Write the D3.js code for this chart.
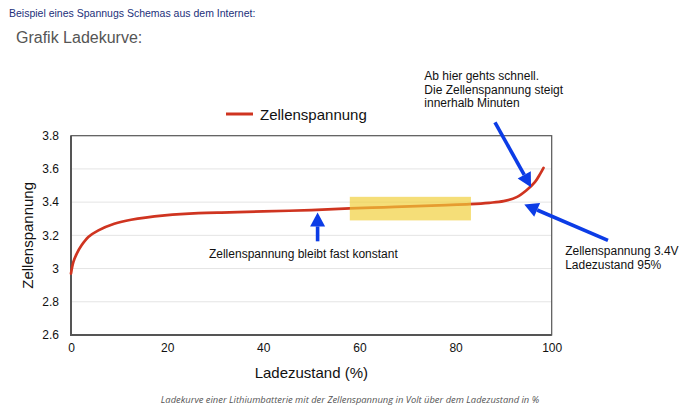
<!DOCTYPE html>
<html>
<head>
<meta charset="utf-8">
<script src="https://cdn.jsdelivr.net/npm/d3@7"></script>
<style>
  body { margin: 0; background: #fff; }
  text { font-family: "Liberation Sans", Arial, Helvetica, sans-serif; fill: #111; }
  .grid line { stroke: #e4e4e4; stroke-width: 1; }
  .tick text { font-size: 12px; fill: #111; }
</style>
</head>
<body>
<div id="chart-container"></div>
<script>
// charge curve: state of charge (%) and cell voltage (V)
const pct  = [0, 0.5, 1.2, 2.2, 3.6, 5.7, 9, 12.5, 19.5, 26.5, 33, 40, 50, 58, 65, 72, 78, 83, 87, 90, 92.7, 94.7, 96.5, 97.6, 98.3];
const volt = [2.97, 3.04, 3.09, 3.14, 3.19, 3.23, 3.27, 3.294, 3.32, 3.334, 3.338, 3.344, 3.352, 3.362, 3.369, 3.376, 3.382, 3.388, 3.396, 3.406, 3.43, 3.47, 3.52, 3.57, 3.606];
const xTicks = [0, 20, 40, 60, 80, 100];
const yTicks = [2.6, 2.8, 3, 3.2, 3.4, 3.6, 3.8];
const seriesName = "Zellenspannung";
// yellow "flat" region
const highlightPct = [58, 83.2];
const highlightVolt = [3.29, 3.432];
// arrows: [fromPct, fromVolt, toPct, toVolt]
const arrows = [
  [51.3, 3.164, 51.3, 3.338],
  [88.2, 3.88, 95.7, 3.49],
  [111.7, 3.17, 94.3, 3.386]
];

const svgWidth = 690, svgHeight = 419;
const svg = d3.select("#chart-container").append("svg")
    .attr("width", svgWidth)
    .attr("height", svgHeight);

const x = d3.scaleLinear().domain([0, 100]).range([71, 551.7]);
const y = d3.scaleLinear().domain([2.6, 3.8]).range([335, 135.7]);

// page texts above the chart
svg.append("text").attr("x", 9).attr("y", 16.5)
    .style("font-size", "10.5px").style("fill", "#22307a")
    .text("Beispiel eines Spannugs Schemas aus dem Internet:");
svg.append("text").attr("x", 16).attr("y", 43)
    .style("font-size", "16px").style("fill", "#555")
    .text("Grafik Ladekurve:");

// grid lines
svg.append("g").attr("class", "grid")
  .selectAll("line")
  .data(yTicks.slice(1, -1))
  .join("line")
    .attr("x1", x(0)).attr("x2", x(100))
    .attr("y1", d => y(d)).attr("y2", d => y(d));

// axes (labels only, frame drawn separately)
const xAxis = svg.append("g").attr("transform", `translate(0,${y(2.6)})`)
    .call(d3.axisBottom(x).tickValues(xTicks).tickSize(0).tickPadding(8.5));
const yAxis = svg.append("g").attr("transform", `translate(${x(0)},0)`)
    .call(d3.axisLeft(y).tickValues(yTicks).tickSize(0).tickPadding(12).tickFormat(d => d));
xAxis.select(".domain").remove();
yAxis.select(".domain").remove();
svg.selectAll(".tick text").attr("font-family", null);

// plot frame
svg.append("rect")
    .attr("x", x(0)).attr("y", y(3.8))
    .attr("width", x(100) - x(0)).attr("height", y(2.6) - y(3.8))
    .attr("fill", "none").attr("stroke", "#555").attr("stroke-width", 1.2);
svg.append("path")
    .attr("d", `M${x(0)},${y(3.8)}V${y(2.6)}H${x(100)}`)
    .attr("fill", "none").attr("stroke", "#555").attr("stroke-width", 2);

// axis titles
svg.append("text")
    .attr("transform", `translate(33,${(y(2.6) + y(3.8)) / 2}) rotate(-90)`)
    .attr("text-anchor", "middle")
    .style("font-size", "15px")
    .text("Zellenspannung");
svg.append("text")
    .attr("x", (x(0) + x(100)) / 2).attr("y", 378)
    .attr("text-anchor", "middle")
    .style("font-size", "15px")
    .text("Ladezustand (%)");

// the curve
const points = pct.map((p, i) => [p, volt[i]]);
const line = d3.line().x(d => x(d[0])).y(d => y(d[1])).curve(d3.curveCatmullRom.alpha(0.5));
svg.append("path")
    .datum(points)
    .attr("d", line)
    .attr("fill", "none")
    .attr("stroke", "#cf3420")
    .attr("stroke-width", 2.7)
    .attr("stroke-linecap", "round");

// highlight box over the flat part
svg.append("rect")
    .attr("x", x(highlightPct[0])).attr("y", y(highlightVolt[1]))
    .attr("width", x(highlightPct[1]) - x(highlightPct[0]))
    .attr("height", y(highlightVolt[0]) - y(highlightVolt[1]))
    .attr("fill", "#f0cf38").attr("opacity", 0.68);

// legend
svg.append("line")
    .attr("x1", 226).attr("x2", 253).attr("y1", 114).attr("y2", 114)
    .attr("stroke", "#cf3420").attr("stroke-width", 3);
svg.append("text").attr("x", 260).attr("y", 120)
    .style("font-size", "15px").text(seriesName);

// arrows
const blue = "#0c3ce6";
const headLen = 14, headW = 15;
arrows.forEach(a => {
  const x1 = x(a[0]), y1 = y(a[1]), x2 = x(a[2]), y2 = y(a[3]);
  const ang = Math.atan2(y2 - y1, x2 - x1);
  const bx = x2 - headLen * Math.cos(ang), by = y2 - headLen * Math.sin(ang);
  svg.append("line")
      .attr("x1", x1).attr("y1", y1).attr("x2", bx).attr("y2", by)
      .attr("stroke", blue).attr("stroke-width", 3.6);
  const px = -Math.sin(ang) * headW / 2, py = Math.cos(ang) * headW / 2;
  svg.append("path")
      .attr("d", `M${x2},${y2}L${bx + px},${by + py}L${bx - px},${by - py}Z`)
      .attr("fill", blue);
});

// annotation texts
svg.append("text").attr("x", x(28.7)).attr("y", y(3.066))
    .style("font-size", "12px").text("Zellenspannung bleibt fast konstant");

const note1 = svg.append("text").attr("x", x(73.5)).attr("y", y(4.135)).style("font-size", "12px");
["Ab hier gehts schnell.", "Die Zellenspannung steigt", "innerhalb Minuten"].forEach((t, i) => {
  note1.append("tspan").attr("x", x(73.5)).attr("dy", i === 0 ? 0 : 13.6).text(t);
});
const note2 = svg.append("text").attr("x", x(102.8)).attr("y", y(3.08)).style("font-size", "12px");
["Zellenspannung 3.4V", "Ladezustand 95%"].forEach((t, i) => {
  note2.append("tspan").attr("x", x(102.8)).attr("dy", i === 0 ? 0 : 13.5).text(t);
});

// caption
svg.append("text")
    .attr("x", 350).attr("y", 403)
    .attr("text-anchor", "middle")
    .style("font-family", "'Open Sans', sans-serif")
    .style("font-style", "italic")
    .style("font-size", "9.4px")
    .style("fill", "#555")
    .text("Ladekurve einer Lithiumbatterie mit der Zellenspannung in Volt über dem Ladezustand in %");
</script>
</body>
</html>
